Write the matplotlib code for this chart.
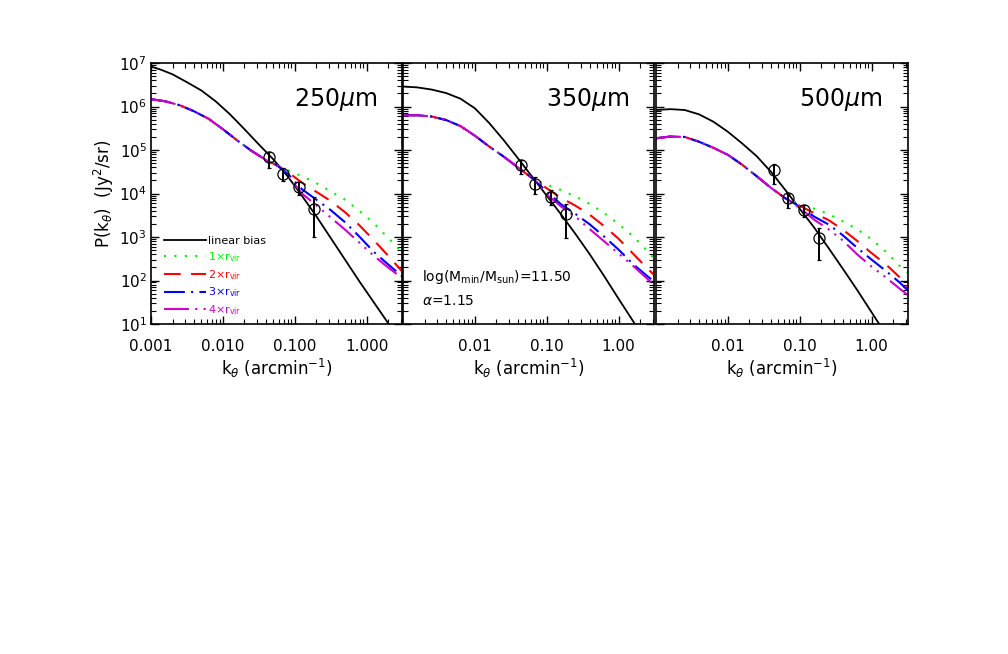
import matplotlib
matplotlib.use('Agg')
import matplotlib.pyplot as plt
import numpy as np

# Valores (log10 de k en arcmin^-1 y log10 de P en Jy^2/sr)
panel_names = ['250$\\mu$m', '350$\\mu$m', '500$\\mu$m']

# Sesgo lineal (linea negra)
lin_logk = [
    [-3.0, -2.85, -2.7, -2.5, -2.3, -2.1, -1.9, -1.7, -1.5, -1.3, -1.1, -0.9, -0.7, -0.5, -0.3, -0.1, 0.1, 0.3, 0.4],
    [-3.0, -2.8, -2.6, -2.4, -2.2, -2.0, -1.8, -1.6, -1.4, -1.2, -1.0, -0.8, -0.6, -0.4, -0.2, 0.0, 0.2, 0.3],
    [-3.0, -2.8, -2.6, -2.4, -2.2, -2.0, -1.8, -1.6, -1.4, -1.2, -1.0, -0.8, -0.6, -0.4, -0.2, 0.0, 0.2],
]
lin_logP = [
    [6.92, 6.84, 6.74, 6.56, 6.37, 6.12, 5.82, 5.48, 5.13, 4.79, 4.40, 3.95, 3.48, 2.98, 2.48, 1.98, 1.50, 1.02, 0.78],
    [6.46, 6.44, 6.39, 6.31, 6.18, 5.96, 5.62, 5.23, 4.81, 4.38, 3.95, 3.52, 3.07, 2.60, 2.10, 1.58, 1.07, 0.81],
    [5.92, 5.94, 5.92, 5.82, 5.65, 5.42, 5.15, 4.86, 4.50, 4.08, 3.65, 3.22, 2.75, 2.27, 1.78, 1.27, 0.76],
]

# Tramo comun de los modelos de halo
halo_logk = [
    [-3.0, -2.8, -2.6, -2.4, -2.2, -2.0, -1.8, -1.6, -1.4, -1.25],
    [-3.0, -2.8, -2.6, -2.4, -2.2, -2.0, -1.8, -1.6, -1.4, -1.2],
    [-3.0, -2.8, -2.6, -2.4, -2.2, -2.0, -1.8, -1.6, -1.4, -1.2],
]
halo_logP = [
    [6.17, 6.12, 6.03, 5.89, 5.72, 5.48, 5.22, 4.98, 4.77, 4.65],
    [5.80, 5.80, 5.77, 5.69, 5.55, 5.33, 5.08, 4.85, 4.60, 4.35],
    [5.27, 5.31, 5.30, 5.19, 5.05, 4.89, 4.66, 4.40, 4.13, 3.89],
]

# Colas de cada radio de corte (1, 2, 3, 4 x r_vir)
tail_logk = [
    [-1.1, -0.9, -0.7, -0.5, -0.3, -0.1, 0.1, 0.3, 0.5],
    [-1.0, -0.8, -0.6, -0.4, -0.2, 0.0, 0.2, 0.4, 0.5],
    [-1.0, -0.8, -0.6, -0.4, -0.2, 0.0, 0.2, 0.4, 0.5],
]
tail_logP = [
    [[4.54, 4.40, 4.24, 4.05, 3.86, 3.60, 3.32, 2.98, 2.64],
     [4.50, 4.25, 4.04, 3.83, 3.57, 3.27, 2.93, 2.57, 2.20],
     [4.46, 4.10, 3.86, 3.62, 3.34, 3.01, 2.66, 2.37, 2.09],
     [4.42, 4.00, 3.73, 3.45, 3.17, 2.87, 2.57, 2.30, 2.05]],
    [[4.20, 4.08, 3.93, 3.76, 3.55, 3.30, 3.02, 2.68, 2.50],
     [4.12, 3.90, 3.72, 3.51, 3.25, 2.96, 2.62, 2.28, 2.12],
     [4.05, 3.75, 3.53, 3.29, 3.01, 2.71, 2.38, 2.10, 1.97],
     [3.98, 3.70, 3.47, 3.18, 2.90, 2.62, 2.34, 2.04, 1.88]],
    [[3.75, 3.65, 3.53, 3.36, 3.18, 2.95, 2.66, 2.32, 2.18],
     [3.72, 3.55, 3.39, 3.17, 2.91, 2.63, 2.37, 2.06, 1.86],
     [3.70, 3.47, 3.29, 3.04, 2.75, 2.48, 2.22, 1.94, 1.78],
     [3.67, 3.40, 3.18, 2.92, 2.60, 2.32, 2.07, 1.80, 1.67]],
]

# Datos medidos
data_logk = [-1.36, -1.16, -0.945, -0.73]
data_logP = [[4.84, 4.45, 4.14, 3.64], [4.66, 4.23, 3.93, 3.52], [4.54, 3.89, 3.62, 2.97]]
data_lo = [[4.59, 4.29, 3.97, 3.01], [4.46, 4.00, 3.74, 2.98], [4.23, 3.67, 3.47, 2.47]]
data_hi = [[4.96, 4.58, 4.27, 3.93], [4.77, 4.39, 4.08, 3.77], [4.69, 4.00, 3.74, 3.20]]

labels = ['linear bias', '1$\\times$r$_{\\rm vir}$', '2$\\times$r$_{\\rm vir}$',
          '3$\\times$r$_{\\rm vir}$', '4$\\times$r$_{\\rm vir}$']
colors = ['#00ee00', '#ff0000', '#0000ff', '#cc00cc']
styles = [(0, (1, 4)), (0, (8, 5)), (0, (10, 3, 1, 3)), (0, (12, 3, 1, 3, 1, 3, 1, 3))]

fig = plt.figure(figsize=(10.08, 6.54), dpi=100)
lefts = [0.1498, 0.3998, 0.6508]

for p in range(3):
    ax = fig.add_axes([lefts[p], 0.5046, 0.2495, 0.399])
    k_lin = 10 ** np.array(lin_logk[p])
    ax.plot(k_lin, 10 ** np.array(lin_logP[p]), color='k', lw=1.3, label=labels[0])
    for i in range(4):
        kk = np.concatenate([halo_logk[p], tail_logk[p]])
        pp = np.concatenate([halo_logP[p], tail_logP[p][i]])
        ax.plot(10 ** kk, 10 ** pp, color=colors[i], lw=1.5, linestyle=styles[i], label=labels[i + 1])

    kd = 10 ** np.array(data_logk)
    pd_ = 10 ** np.array(data_logP[p])
    err = [pd_ - 10 ** np.array(data_lo[p]), 10 ** np.array(data_hi[p]) - pd_]
    ax.errorbar(kd, pd_, yerr=err, fmt='o', mfc='none', mec='k', mew=0.9, ms=8,
                ecolor='k', elinewidth=1.4, capsize=1.5, zorder=5)

    ax.set_xscale('log')
    ax.set_yscale('log')
    ax.set_xlim(1e-3, 10 ** 0.5)
    ax.set_ylim(10, 1e7)
    ax.tick_params(which='both', direction='in', top=True, right=True, labelsize=11)
    ax.tick_params(which='major', length=6, width=1)
    ax.tick_params(which='minor', length=3.5, width=0.8)
    ax.tick_params(axis='x', pad=11)
    ax.tick_params(axis='y', pad=3)
    for s in ax.spines.values():
        s.set_linewidth(1.2)

    if p == 0:
        ax.set_xticks([0.001, 0.01, 0.1, 1.0])
        ax.set_xticklabels(['0.001', '0.010', '0.100', '1.000'])
        ax.set_ylabel('P(k$_{\\theta}$)  (Jy$^2$/sr)', fontsize=12)
        ax.yaxis.set_label_coords(-0.14, 0.5)
        ax.legend(loc='lower left', bbox_to_anchor=(0.01, -0.012), frameon=False,
                  fontsize=8, handlelength=3.8, handletextpad=0.2,
                  labelspacing=0.36, labelcolor='linecolor')
    else:
        ax.set_xticks([0.01, 0.1, 1.0])
        ax.set_xticklabels(['0.01', '0.10', '1.00'])
        ax.set_yticklabels([])
    ax.set_xlabel('k$_{\\theta}$ (arcmin$^{-1}$)', fontsize=12, labelpad=2)
    ax.text(0.9, 0.86, panel_names[p], transform=ax.transAxes, fontsize=17,
            ha='right', va='center')

    if p == 1:
        ax.text(0.075, 0.18, 'log(M$_{\\rm min}$/M$_{\\rm sun}$)=11.50', transform=ax.transAxes,
                fontsize=10, ha='left', va='center')
        ax.text(0.075, 0.09, '$\\alpha$=1.15', transform=ax.transAxes,
                fontsize=10, ha='left', va='center')

fig.savefig('out.png', dpi=100)
